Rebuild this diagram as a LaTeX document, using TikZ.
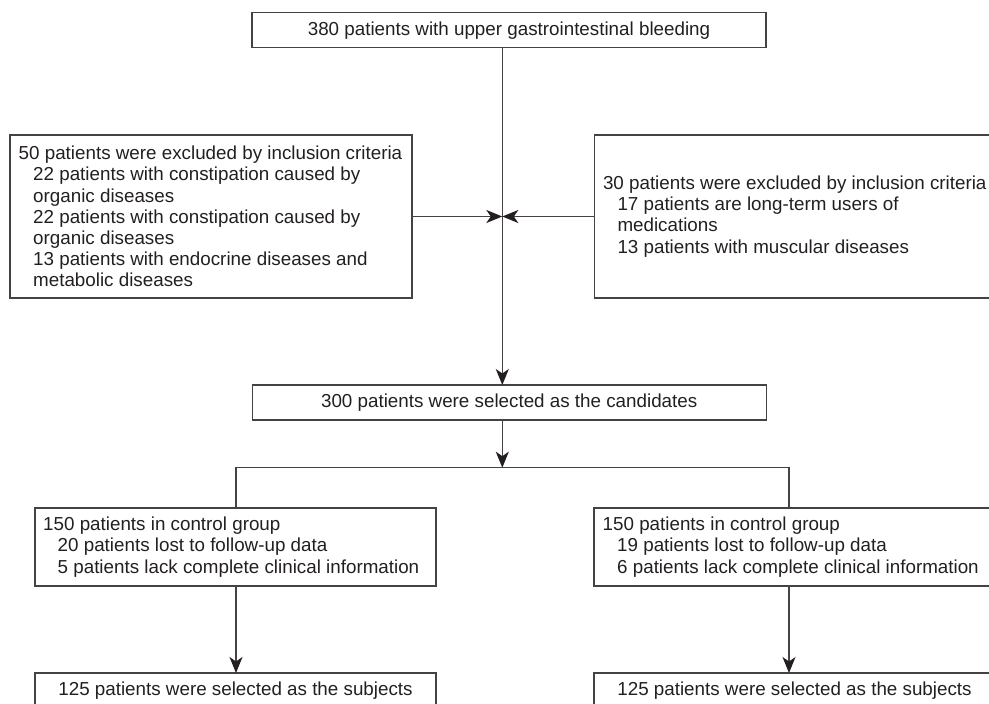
\documentclass[tikz,border=0pt]{standalone}
\usepackage{fontspec}
\setmainfont{Liberation Sans}
\usetikzlibrary{arrows.meta}
\definecolor{lncol}{RGB}{70,66,66}
\definecolor{txcol}{RGB}{35,31,32}
\begin{document}
\begin{tikzpicture}[x=1pt,y=-1pt,
  box/.style={draw=lncol, line width=1.4pt, inner sep=0pt, outer sep=0pt, rectangle},
  txt/.style={text=txcol, font=\fontsize{18.8}{21.2}\selectfont, align=left, inner sep=0pt},
  arr/.style={draw=lncol, line width=1.4pt, -{Stealth[length=16pt,width=13pt,inset=4.5pt,color=txcol,fill=txcol]}},
  conn/.style={draw=lncol, line width=1.4pt}]
\useasboundingbox (0,0) rectangle (989,704);
% column coordinates
\coordinate (sx) at (502.3,0);
\coordinate (junc) at (502.3,216.5);
\coordinate (br) at (502.3,467.7);
\coordinate (cL) at (236,0);
\coordinate (cR) at (789,0);
% boxes
\node[box, txt, minimum width=514pt, minimum height=35pt] (top) at (509,30.2) {380 patients with upper gastrointestinal bleeding};
\node[box, minimum width=402pt, minimum height=163pt] (ex1) at (211,216.5) {};
\node[txt, anchor=west] (ex1t) at ([xshift=8.5pt]ex1.west) {50 patients were excluded by inclusion criteria\\
\hspace*{14.5pt}22 patients with constipation caused by\\
\hspace*{14.5pt}organic diseases\\
\hspace*{14.5pt}22 patients with constipation caused by\\
\hspace*{14.5pt}organic diseases\\
\hspace*{14.5pt}13 patients with endocrine diseases and\\
\hspace*{14.5pt}metabolic diseases};
\node[box, minimum width=404pt, minimum height=163pt] (ex2) at (796.3,216.5) {};
\node[txt, anchor=west] (ex2t) at ([xshift=8.5pt]ex2.west) {30 patients were excluded by inclusion criteria\\
\hspace*{14.5pt}17 patients are long-term users of\\
\hspace*{14.5pt}medications\\
\hspace*{14.5pt}13 patients with muscular diseases};
\node[box, txt, minimum width=514pt, minimum height=35pt] (mid) at (509.2,402.5) {300 patients were selected as the candidates};
\node[box, minimum width=401pt, minimum height=78pt] (g1) at (235.5,547) {};
\node[txt, anchor=west] (g1t) at ([xshift=8pt]g1.west) {150 patients in control group\\
\hspace*{14.5pt}20 patients lost to follow-up data\\
\hspace*{14.5pt}5 patients lack complete clinical information};
\node[box, minimum width=401pt, minimum height=78pt] (g2) at (794.5,547) {};
\node[txt, anchor=west] (g2t) at ([xshift=8.5pt]g2.west) {150 patients in control group\\
\hspace*{14.5pt}19 patients lost to follow-up data\\
\hspace*{14.5pt}6 patients lack complete clinical information};
\node[box, txt, minimum width=401pt, minimum height=35pt] (b1) at (235.5,690.5) {125 patients were selected as the subjects};
\node[box, txt, minimum width=401pt, minimum height=35pt] (b2) at (794.5,690.5) {125 patients were selected as the subjects};
% connectors
\draw[arr] (top.south -| sx) -- (mid.north -| sx);
\draw[arr] (ex1.east |- junc) -- (junc);
\draw[arr] (ex2.west |- junc) -- (junc);
\draw[arr] (mid.south -| sx) -- (br);
\draw[conn] (g1.north -| cL) -- (br -| cL) -- (br -| cR) -- (g2.north -| cR);
\draw[arr] (g1.south -| cL) -- (b1.north -| cL);
\draw[arr] (g2.south -| cR) -- (b2.north -| cR);
\end{tikzpicture}
\end{document}
